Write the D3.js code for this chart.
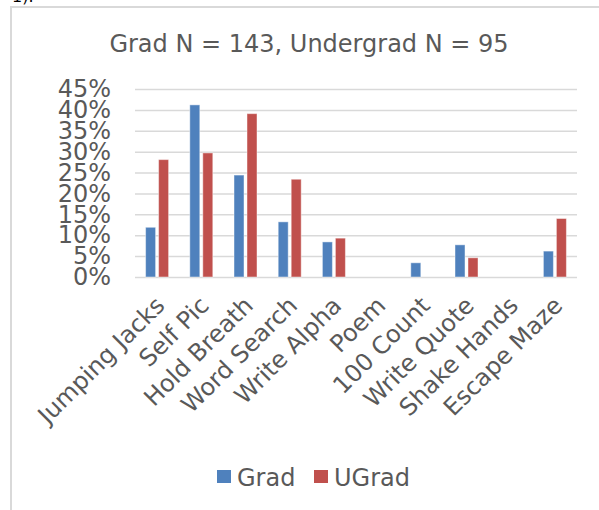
<!DOCTYPE html>
<html>
<head>
<meta charset="utf-8">
<script src="https://cdn.jsdelivr.net/npm/d3@7"></script>
<style>
  body { margin: 0; background: #fff; }
  svg { display: block; }
  text { font-family: "DejaVu Sans", Verdana, sans-serif; }
</style>
</head>
<body>
<div id="chart"></div>
<script>
// chart data
const categories = ['Jumping Jacks', 'Self Pic', 'Hold Breath', 'Word Search', 'Write Alpha',
                    'Poem', '100 Count', 'Write Quote', 'Shake Hands', 'Escape Maze'];
const gradValues = [0.119, 0.412, 0.244, 0.132, 0.084, 0, 0.034, 0.077, 0, 0.062];
const ugradValues = [0.281, 0.297, 0.391, 0.234, 0.093, 0, 0, 0.046, 0, 0.140];
const seriesNames = ['Grad', 'UGrad'];
const yTicks = [0, 0.05, 0.10, 0.15, 0.20, 0.25, 0.30, 0.35, 0.40, 0.45];
const title = 'Grad N = 143, Undergrad N = 95';

const width = 599, height = 510;
const margin = {top: 89, right: 22, bottom: 233, left: 135};
const colors = {Grad: '#4f81bd', UGrad: '#c0504d'};

let svg = d3.select('#chart').append('svg')
    .attr('width', width)
    .attr('height', height);

// chart frame (page border around the excel chart)
svg.append('text')
    .attr('x', 12).attr('y', 2)
    .attr('font-size', 16)
    .attr('fill', '#000')
    .text('1).');
svg.append('path')
    .attr('d', `M11,${height + 5}V7H${width + 5}`)
    .attr('fill', 'none')
    .attr('stroke', '#d9d9d9')
    .attr('stroke-width', 2);

let cWidth = width - margin.left - margin.right;
let cHeight = height - margin.top - margin.bottom;
let g = svg.append('g').attr('transform', `translate(${margin.left},${margin.top})`);

// title
svg.append('text')
    .attr('x', 309)
    .attr('y', 52)
    .attr('text-anchor', 'middle')
    .attr('font-size', 24)
    .attr('fill', '#595959')
    .text(title);

let x0 = d3.scaleBand().domain(categories).range([0, cWidth]);
let bw = x0.bandwidth();
let x1 = d3.scaleBand().domain(seriesNames)
    .range([bw / 2 - 11.5, bw / 2 + 11.5])
    .paddingInner(0.23);
let y = d3.scaleLinear().domain([0, 0.45]).range([cHeight, 0]);

// gridlines + y labels
let yAxis = g.append('g')
    .call(d3.axisLeft(y).tickValues(yTicks).tickFormat(d3.format('.0%')).tickSize(-cWidth).tickPadding(24));
yAxis.select('.domain').remove();
yAxis.selectAll('line').attr('stroke', '#d9d9d9').attr('stroke-width', 1.5);
yAxis.selectAll('text')
    .attr('font-size', 24)
    .attr('fill', '#595959')
    .attr('font-family', '"DejaVu Sans", Verdana, sans-serif');

// bars
let rows = categories.map((c, i) => ({cat: c, Grad: gradValues[i], UGrad: ugradValues[i]}));

g.append('g')
    .selectAll('g')
    .data(rows)
    .enter().append('g')
        .attr('transform', d => `translate(${x0(d.cat)},0)`)
    .selectAll('rect')
    .data(d => seriesNames.map(k => ({key: k, value: d[k]})).filter(e => e.value > 0))
    .enter().append('rect')
        .attr('x', d => x1(d.key))
        .attr('y', d => y(d.value))
        .attr('width', x1.bandwidth())
        .attr('height', d => cHeight - y(d.value))
        .attr('fill', d => colors[d.key])
        .attr('stroke', 'rgba(255,255,255,0.45)')
        .attr('stroke-width', 1);

// x labels, rotated
let xAxis = g.append('g')
    .attr('transform', `translate(0,${cHeight})`)
    .call(d3.axisBottom(x0).tickSize(0).tickPadding(0));
xAxis.select('.domain').remove();
xAxis.selectAll('text')
    .attr('font-size', 24)
    .attr('fill', '#595959')
    .attr('font-family', '"DejaVu Sans", Verdana, sans-serif')
    .attr('text-anchor', 'end')
    .attr('dy', 0)
    .attr('transform', 'translate(9,30) rotate(-45)');

// legend
let legend = svg.append('g')
    .selectAll('.legend')
    .data(seriesNames)
    .enter().append('g')
        .attr('class', 'legend')
        .attr('transform', (d, i) => `translate(${217 + i * 97},470)`);

legend.append('rect')
    .attr('width', 14)
    .attr('height', 13)
    .attr('fill', d => colors[d]);

legend.append('text')
    .attr('x', 20)
    .attr('y', 15.5)
    .attr('font-size', 24)
    .attr('fill', '#595959')
    .text(d => d);
</script>
</body>
</html>
